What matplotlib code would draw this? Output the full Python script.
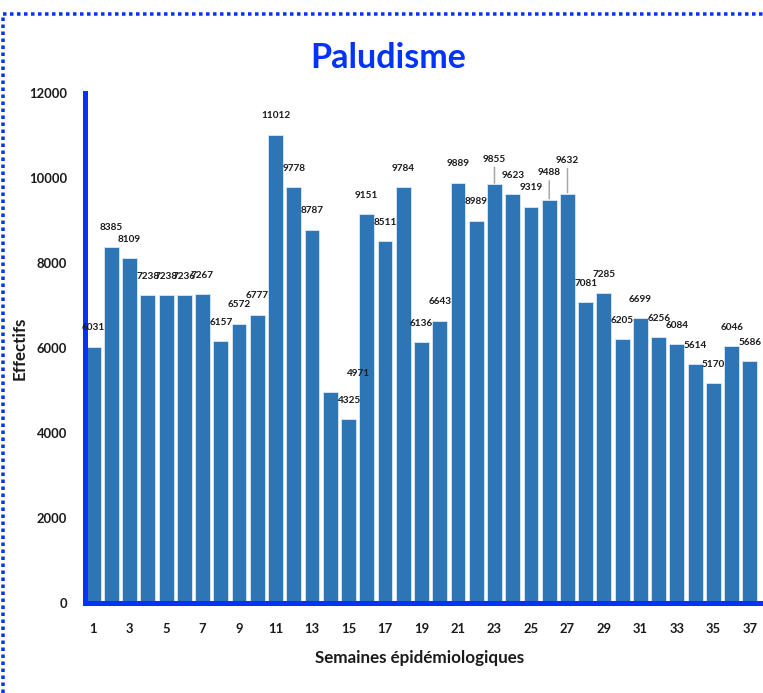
import matplotlib
matplotlib.use('Agg')
import matplotlib.pyplot as plt
from matplotlib.lines import Line2D
import numpy as np

plt.rcParams['font.family'] = ['Lato', 'DejaVu Sans']

# Données
semaines = list(range(1, 38))
effectifs = [6031, 8385, 8109, 7238, 7238, 7236, 7267, 6157, 6572, 6777,
             11012, 9778, 8787, 4971, 4325, 9151, 8511, 9784, 6136, 6643,
             9889, 8989, 9855, 9623, 9319, 9488, 9632, 7081, 7285, 6205,
             6699, 6256, 6084, 5614, 5170, 6046, 5686]
yticks = [0, 2000, 4000, 6000, 8000, 10000, 12000]

# décalages des étiquettes (points) : semaine -> (dx, dy), lignes de rappel
decalages = {14: (27, 18), 23: (0, 25), 26: (0, 27), 27: (0, 33)}
rappels = [23, 26, 27]

BLEU = '#0033FF'
BARRE = '#2E75B6'

DPI = 72
fig = plt.figure(figsize=(763 / DPI, 693 / DPI), dpi=DPI)
fig.patch.set_facecolor('white')
ax = fig.add_axes([85 / 763, 90 / 693, 675 / 763, 510 / 693])

bars = ax.bar(semaines, effectifs, width=0.82, color=BARRE,
              edgecolor='#DDEBF7', linewidth=0.8, zorder=2)

for s, v in zip(semaines, effectifs):
    dx, dy = decalages.get(s, (0, 19))
    ax.annotate(str(v), (s, v), textcoords='offset points', xytext=(dx, dy),
                ha='center', va='center', fontsize=10, fontweight='bold',
                color='#1a1a1a', zorder=4)
    if s in rappels:
        ax.annotate('', (s, v), textcoords='offset points', xytext=(0, dy - 8),
                    arrowprops=dict(arrowstyle='-', color='#A6A6A6', lw=1.5,
                                    shrinkA=0, shrinkB=1))

ax.set_xlim(0.56, 37.55)
ax.set_ylim(0, 12000)
ax.set_xticks(semaines[::2])
ax.set_yticks(yticks)
ax.tick_params(axis='x', length=0, pad=20, labelsize=13)
ax.tick_params(axis='y', length=0, pad=18, labelsize=13)
for lab in ax.get_xticklabels() + ax.get_yticklabels():
    lab.set_fontweight('bold')
    lab.set_color('#1a1a1a')

for side in ['top', 'right']:
    ax.spines[side].set_visible(False)
for side in ['left', 'bottom']:
    ax.spines[side].set_color(BLEU)
    ax.spines[side].set_linewidth(5)
    ax.spines[side].set_zorder(3)

ax.set_xlabel('Semaines épidémiologiques', fontsize=17, fontweight='bold',
              color='#1a1a1a')
ax.set_ylabel('Effectifs', fontsize=17, fontweight='bold', color='#1a1a1a')
ax.xaxis.set_label_coords((420 - 85) / 675, -(658 - 603) / 510)
ax.yaxis.set_label_coords(-(85 - 20) / 675, 0.5)
ax.xaxis.label.set_va('center')
ax.yaxis.label.set_va('center')

fig.text(388 / 763, 1 - 58 / 693, 'Paludisme', ha='center', va='center',
         fontsize=34, fontweight='bold', color=BLEU)

# cadre pointillé
fig.add_artist(Line2D([3 / 763, 1], [1 - 14 / 693] * 2, color=BLEU, lw=3.5,
                      linestyle=(0, (1, 1)), transform=fig.transFigure))
fig.add_artist(Line2D([3 / 763] * 2, [0, 1 - 14 / 693], color=BLEU, lw=3.5,
                      linestyle=(0, (1, 1)), transform=fig.transFigure))

plt.savefig('out.png', dpi=DPI, facecolor='white')
plt.close(fig)
